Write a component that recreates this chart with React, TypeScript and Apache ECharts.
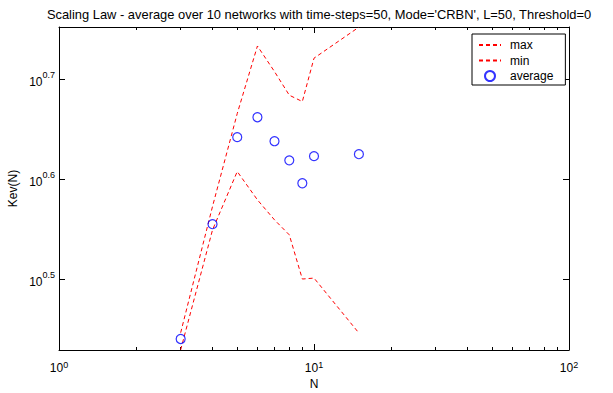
import React, { useEffect, useRef } from 'react';
import * as echarts from 'echarts';

// ---- data ----
const N_VALUES = [3, 4, 5, 6, 7, 8, 9, 10, 15];
const MAX_VALUES = [2.794, 3.738, 4.63, 5.41, 5.1, 4.83, 4.76, 5.26, 5.65];
const MIN_VALUES = [2.686, 3.541, 4.051, 3.795, 3.624, 3.501, 3.162, 3.169, 2.792];
const AVG_VALUES = [2.754, 3.588, 4.385, 4.591, 4.344, 4.157, 3.943, 4.197, 4.216];
const X_LIMITS = [1, 100];
const Y_LIMITS = [2.685, 5.652];
const X_MAJOR_TICKS = [1, 10, 100];
const X_MINOR_TICKS = [2, 3, 4, 5, 6, 7, 8, 9, 20, 30, 40, 50, 60, 70, 80, 90];
const Y_TICK_EXPONENTS = [0.5, 0.6, 0.7];
const TITLE = "Scaling Law - average over 10 networks with time-steps=50, Mode='CRBN', L=50, Threshold=0";
const SERIES_NAMES = ['max', 'min', 'average'];

const FONT = 'Liberation Sans, Arial, Helvetica, sans-serif';
const lg = (v: number) => Math.log10(v);

export default function App() {
  const ref = useRef<HTMLDivElement>(null);
  useEffect(() => {
    document.body.style.margin = '0';
    if (!ref.current) return;
    const chart = echarts.init(ref.current, null, { renderer: 'svg' });

    const richX = {
      b: { fontSize: 12, fontFamily: FONT, color: '#000', lineHeight: 14, verticalAlign: 'bottom' },
      s: { fontSize: 9, fontFamily: FONT, color: '#000', lineHeight: 8, verticalAlign: 'top' },
    };
    const richY = {
      b: { fontSize: 12, fontFamily: FONT, color: '#000', lineHeight: 18, verticalAlign: 'bottom', align: 'right' },
      s: { fontSize: 9, fontFamily: FONT, color: '#000', lineHeight: 10, verticalAlign: 'top', align: 'right' },
    };
    const xMajor = X_MAJOR_TICKS.map(lg);
    const xMinor = X_MINOR_TICKS.map(lg);
    const baseX = {
      type: 'value',
      min: lg(X_LIMITS[0]),
      max: lg(X_LIMITS[1]),
      splitLine: { show: false },
      axisLine: { show: true, onZero: false, lineStyle: { color: '#000', width: 1 } },
    };
    const baseY = {
      type: 'value',
      min: lg(Y_LIMITS[0]),
      max: lg(Y_LIMITS[1]),
      splitLine: { show: false },
      axisLine: { show: true, onZero: false, lineStyle: { color: '#000', width: 1 } },
    };
    const toPts = (arr: number[]) => N_VALUES.map((n, i) => [lg(n), lg(arr[i])]);
    const hiddenSymbol = { color: 'rgba(0,0,0,0)', borderColor: 'rgba(0,0,0,0)', borderWidth: 0, opacity: 0 };
    const dash = [4, 3];

    chart.setOption({
      animation: false,
      backgroundColor: '#fff',
      title: {
        text: TITLE,
        left: 314,
        textAlign: 'center',
        top: 3,
        textStyle: { fontSize: 12.9, fontWeight: 'normal', color: '#000', fontFamily: FONT },
      },
      grid: { left: 59, right: 44, top: 27, bottom: 43, containLabel: false, outerBoundsMode: 'none' },
      legend: {
        data: [
          { name: SERIES_NAMES[0], itemStyle: hiddenSymbol },
          { name: SERIES_NAMES[1], itemStyle: hiddenSymbol },
          { name: SERIES_NAMES[2] },
        ],
        orient: 'vertical',
        left: 472,
        top: 34,
        itemWidth: 22,
        itemHeight: 10,
        itemGap: 3.5,
        padding: [5, 12, 3, 6],
        borderColor: '#000',
        borderWidth: 1,
        borderRadius: 0,
        backgroundColor: '#fff',
        textStyle: { fontSize: 12, color: '#000', fontFamily: FONT, padding: [0, 0, 0, 4] },
      },
      xAxis: [
        {
          ...baseX,
          position: 'bottom',
          axisTick: { show: true, inside: true, length: 6, customValues: xMajor, lineStyle: { color: '#000' } },
          axisLabel: {
            customValues: xMajor,
            margin: 10,
            formatter: (v: number) => `{b|10}{s|${Math.round(v)}}`,
            rich: richX,
          },
          name: 'N',
          nameLocation: 'middle',
          nameGap: 28,
          nameMoveOverlap: false,
          nameTextStyle: { fontSize: 12, lineHeight: 12, color: '#000', fontFamily: FONT },
        },
        {
          ...baseX,
          position: 'bottom',
          axisLine: { show: false, onZero: false },
          axisTick: { show: true, inside: true, length: 3, customValues: xMinor, lineStyle: { color: '#000' } },
          axisLabel: { show: false },
        },
        {
          ...baseX,
          position: 'top',
          axisTick: { show: true, inside: true, length: 6, customValues: xMajor, lineStyle: { color: '#000' } },
          axisLabel: { show: false },
        },
        {
          ...baseX,
          position: 'top',
          axisLine: { show: false, onZero: false },
          axisTick: { show: true, inside: true, length: 3, customValues: xMinor, lineStyle: { color: '#000' } },
          axisLabel: { show: false },
        },
      ],
      yAxis: [
        {
          ...baseY,
          position: 'left',
          axisTick: { show: true, inside: true, length: 6, customValues: Y_TICK_EXPONENTS, lineStyle: { color: '#000' } },
          axisLabel: {
            customValues: Y_TICK_EXPONENTS,
            margin: 4,
            align: 'right',
            formatter: (v: number) => `{b|10}{s|${v.toFixed(1)}}`,
            rich: richY,
          },
          name: 'Kev(N)',
          nameLocation: 'middle',
          nameGap: 40,
          nameMoveOverlap: false,
          nameTextStyle: { fontSize: 12, color: '#000', fontFamily: FONT },
        },
        {
          ...baseY,
          position: 'right',
          axisTick: { show: true, inside: true, length: 6, customValues: Y_TICK_EXPONENTS, lineStyle: { color: '#000' } },
          axisLabel: { show: false },
        },
      ],
      series: [
        {
          name: SERIES_NAMES[0],
          type: 'line',
          data: toPts(MAX_VALUES),
          symbol: 'none',
          lineStyle: { color: '#ff0000', width: 1, type: dash },
          itemStyle: { color: '#ff0000' },
          clip: true,
        },
        {
          name: SERIES_NAMES[1],
          type: 'line',
          data: toPts(MIN_VALUES),
          symbol: 'none',
          lineStyle: { color: '#ff0000', width: 1, type: dash },
          itemStyle: { color: '#ff0000' },
          clip: true,
        },
        {
          name: SERIES_NAMES[2],
          type: 'scatter',
          data: toPts(AVG_VALUES),
          symbol: 'circle',
          symbolSize: 9,
          itemStyle: { color: 'rgba(0,0,0,0)', borderColor: '#0000ff', borderWidth: 1.2 },
          z: 3,
        },
      ],
    });
    return () => chart.dispose();
  }, []);
  return <div ref={ref} style={{ width: 613, height: 393 }} />;
}
